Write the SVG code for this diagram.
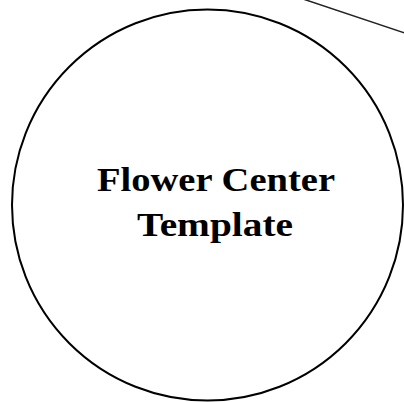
<svg xmlns="http://www.w3.org/2000/svg" width="404" height="402" viewBox="0 0 404 402">
<style>
.lbl{font-family:"Liberation Serif","Times New Roman",serif;font-weight:bold;font-size:34px;fill:#000;text-anchor:middle}
</style>
<rect width="404" height="402" fill="#fff"/>
<g id="connectors">
<line x1="303" y1="-1" x2="405" y2="33" stroke="#222" stroke-width="1.5"/>
</g>
<g id="flower-center">
<circle cx="207.5" cy="205" r="195.5" fill="none" stroke="#000" stroke-width="2"/>
<text class="lbl" x="216" y="191" textLength="238" lengthAdjust="spacingAndGlyphs">Flower Center</text>
<text class="lbl" x="215" y="236" textLength="156" lengthAdjust="spacingAndGlyphs">Template</text>
</g>
</svg>
